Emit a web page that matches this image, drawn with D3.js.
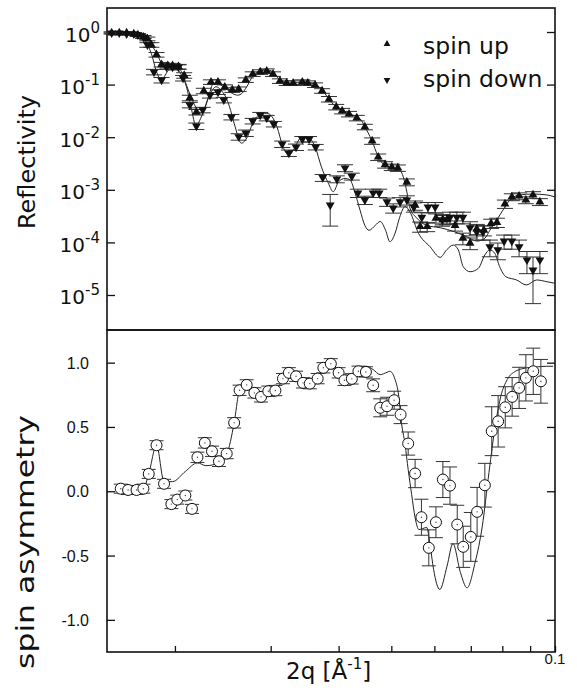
<!DOCTYPE html>
<html>
<head>
<meta charset="utf-8">
<script src="https://cdn.jsdelivr.net/npm/d3@7"></script>
<style>
  body { margin: 0; background: #fff; }
  text { font-family: "Liberation Sans", Arial, sans-serif; fill: #111; }
  .wide { font-family: "DejaVu Sans", sans-serif; }
</style>
</head>
<body>
<svg width="577" height="696"></svg>
<script>
// ---- reflectivity, spin up (q in 1/A, R, relative error) ----
const upQ = [0.0153,0.0158,0.0163,0.0168,0.0171,0.0175,0.0178,0.0181,0.0185,0.0189,0.0194,0.0198,0.0203,0.0208,0.0213,0.0219,0.0226,0.0233,0.0240,0.0247,
  0.0255,0.0262,0.0270,0.0278,0.0287,0.0295,0.0303,0.0312,0.0321,0.0330,0.0343,0.0351,0.0362,0.0373,0.0384,0.0396,0.0406,0.0418,0.0432,0.0447,
  0.0461,0.0473,0.0487,0.0501,0.0514,0.0534,0.0553,0.0565,0.0582,0.0604,0.0622,0.0633,0.0655,0.0677,0.0698,0.0718,0.0740,0.0763,0.0782,0.0809,
  0.0833,0.0859,0.0884,0.0911,0.0938];
const upR = [0.96,0.96,0.96,0.92,0.88,0.80,0.74,0.57,0.37,0.24,0.23,0.23,0.22,0.15,0.056,0.030,0.076,0.112,0.112,0.090,
  0.079,0.082,0.122,0.159,0.174,0.181,0.159,0.117,0.107,0.107,0.112,0.107,0.098,0.076,0.053,0.0375,0.0315,0.0276,0.0232,0.0157,
  0.0085,0.0042,0.0030,0.0027,0.0026,0.0014,0.00051,0.00020,0.00020,0.00029,0.00027,0.00027,0.00021,0.00012,0.000097,0.00018,0.00017,0.00023,0.00024,0.00054,
  0.00073,0.00076,0.00064,0.00080,0.00059];
const upErr = [0.04,0.04,0.04,0.04,0.05,0.06,0.08,0.1,0.1,0.1, 0.1,0.1,0.1,0.12,0.12,0.12,0.12,0.1,0.1,0.1,
  0.1,0.1,0.1,0.1,0.1,0.1,0.1,0.1,0.1,0.1, 0.1,0.1,0.1,0.1,0.12,0.12,0.12,0.12,0.12,0.12,
  0.14,0.14,0.14,0.14,0.14,0.15,0.2,0.22,0.2,0.2, 0.2,0.2,0.22,0.25,0.25,0.22,0.22,0.2,0.2,0.18,
  0.15,0.15,0.15,0.15,0.15];

// ---- reflectivity, spin down ----
const downQ = [0.0153,0.0158,0.0163,0.0168,0.0171,0.0175,0.0178,0.0183,0.0189,0.0193,0.0198,0.0203,0.0207,0.0213,0.0219,0.0225,0.0232,0.0240,0.0246,0.0254,
  0.0262,0.0270,0.0278,0.0287,0.0295,0.0304,0.0315,0.0324,0.0334,0.0343,0.0353,0.0363,0.0374,0.0386,0.0397,0.0411,0.0423,0.0434,0.0447,0.0463,
  0.0475,0.0491,0.0504,0.0519,0.0534,0.0550,0.0569,0.0584,0.0602,0.0620,0.0641,0.0660,0.0677,0.0698,0.0718,0.0737,0.0759,0.0785,0.0806,0.0833,
  0.0859,0.0888,0.0911,0.0938];
const downR = [0.96,0.96,0.92,0.92,0.88,0.80,0.57,0.174,0.122,0.216, 0.216,0.216,0.133,0.041,0.0163,0.033,0.063,0.072,0.051,0.0242,
  0.0102,0.012,0.0203,0.0264,0.0232,0.0178,0.0074,0.0050,0.0065,0.0092, 0.0092,0.0065,0.0017,0.00051,0.0016,0.0026,0.0018,0.00087,0.00064,0.00087,
  0.00087,0.00059,0.00045,0.00059,0.00064,0.00047,0.00030,0.00047,0.00047,0.00027, 0.00030,0.00030,0.00030,0.00019,0.000158,0.000158,0.000082,0.000072,0.000106,0.000106,
  0.000082,0.0000463,0.0000298,0.0000463];
const downErr = [0.04,0.04,0.04,0.04,0.05,0.06,0.1,0.12,0.12,0.1, 0.1,0.1,0.12,0.12,0.14,0.12,0.12,0.1,0.12,0.12,
  0.14,0.14,0.12,0.12,0.12,0.12,0.14,0.14,0.14,0.12, 0.12,0.12,0.15,0.6,0.15,0.15,0.15,0.18,0.18,0.18,
  0.18,0.18,0.2,0.2,0.2,0.2,0.22,0.22,0.22,0.25, 0.25,0.25,0.25,0.3,0.3,0.3,0.35,0.35,0.3,0.3,
  0.35,0.45,0.77,0.45];

// ---- fitted reflectivity curves ----
const upFitQ = [0.0150,0.0172,0.0178,0.0181,0.0185,0.0188,0.0191,0.0198,0.0203,0.0207,0.0210,0.0214,0.0220,0.0223,0.0227,0.0231,0.0235,0.0239,0.0243,0.0249,
  0.0255,0.0261,0.0266,0.0270,0.0279,0.0287,0.0295,0.0303,0.0312,0.0321,0.0330,0.0342,0.0351,0.0364,0.0373,0.0383,0.0394,0.0405,0.0418,0.0432,
  0.0440,0.0447,0.0460,0.0473,0.0490,0.0504,0.0518,0.0528,0.0534,0.0541,0.0557,0.0581,0.0615,0.0655,0.0689,0.0719,0.0743,0.0759,0.0782,0.0802,
  0.0826,0.0862,0.0911,0.0966,0.1000];
const upFitR = [1.0,0.96,0.81,0.57,0.40,0.28,0.22,0.22,0.21,0.15,0.098,0.059,0.033,0.029,0.036,0.063,0.103,0.107,0.098,0.082,
  0.068,0.063,0.069,0.085,0.152,0.181,0.190,0.174,0.122,0.11,0.106,0.113,0.11,0.098,0.079,0.055,0.039,0.033,0.0276,0.0245,
  0.0212,0.0159,0.0088,0.0043,0.00275,0.0026,0.0024,0.00153,0.00091,0.00045,0.00029,0.00021,0.00019,0.000158,0.000127,0.000106,0.00012,0.00017,0.00027,0.00041,
  0.00064,0.0008,0.00083,0.0008,0.00073];
const downFitQ = [0.0150,0.0172,0.0174,0.0177,0.0181,0.0185,0.0189,0.0192,0.0195,0.0202,0.0206,0.0210,0.0214,0.0219,0.0221,0.0225,0.0231,0.0238,0.0243,0.0248,
  0.0252,0.0257,0.0265,0.0272,0.0278,0.0284,0.0295,0.0302,0.0308,0.0316,0.0324,0.0332,0.0340,0.0350,0.0362,0.0372,0.0383,0.0391,0.0400,0.0411,
  0.0420,0.0429,0.0438,0.0447,0.0455,0.0467,0.0477,0.0488,0.0497,0.0508,0.0518,0.0530,0.0541,0.0561,0.0589,0.0615,0.0632,0.0650,0.0664,0.0678,
  0.0698,0.0723,0.0743,0.0759,0.0775,0.0791,0.0812,0.0850,0.0886,0.0925,0.0966,0.1000];
const downFitR = [1.0,0.96,0.88,0.645,0.39,0.176,0.122,0.152,0.190,0.190,0.146,0.091,0.038,0.0159,0.0187,0.0285,0.059,0.091,0.079,0.058,
  0.038,0.0184,0.0077,0.0103,0.0184,0.0253,0.0285,0.0242,0.0159,0.0066,0.0046,0.0062,0.0095,0.0100,0.0066,0.0027,0.00133,0.00092,0.00142,0.00165,
  0.00153,0.00086,0.00041,0.00021,0.00017,0.00021,0.00025,0.00017,0.000103,0.000149,0.0003,0.00048,0.00038,0.000149,0.000083,0.000052,0.000072,0.000089,0.000072,0.0000345,
  0.0000277,0.0000322,0.000058,0.000072,0.000062,0.0000345,0.0000223,0.0000193,0.0000155,0.0000193,0.0000179,0.0000167];

// ---- spin asymmetry ----
const asymQ = [0.0159,0.0164,0.0170,0.0175,0.0179,0.0185,0.0191,0.0197,0.0202,0.0209,0.0215,0.0220,0.0227,0.0234,0.0241,0.0249,0.0257,0.0263,0.0271,0.0280,
  0.0288,0.0297,0.0306,0.0316,0.0324,0.0334,0.0344,0.0354,0.0366,0.0375,0.0387,0.0400,0.0410,0.0423,0.0435,0.0449,0.0463,0.0477,0.0491,0.0506,
  0.0520,0.0537,0.0553,0.0568,0.0586,0.0604,0.0622,0.0641,0.0661,0.0678,0.0700,0.0719,0.0743,0.0765,0.0786,0.0810,0.0834,0.0859,0.0884,0.0912,
  0.0942];
const asymA = [0.02,0.01,0.01,0.02,0.135,0.358,0.058,-0.10,-0.065,-0.033, -0.137,0.264,0.376,0.311,0.233,0.293,0.532,0.785,0.827,0.765,
  0.734,0.778,0.783,0.876,0.921,0.894,0.843,0.837,0.876,0.96, 0.991,0.921,0.863,0.874,0.933,0.928,0.824,0.649,0.661,0.708,
  0.596,0.371,0.138,-0.202,-0.44,-0.241,0.091,0.044,-0.259,-0.432, -0.355,-0.16,0.047,0.467,0.544,0.653,0.734,0.804,0.882,0.933,
  0.855];
const asymErr = [0.035,0.035,0.035,0.035,0.035,0.035,0.035,0.035,0.035,0.035, 0.035,0.04,0.04,0.04,0.04,0.04,0.04,0.04,0.04,0.04,
  0.04,0.04,0.04,0.04,0.04,0.04,0.04,0.04,0.04,0.04, 0.04,0.04,0.04,0.04,0.04,0.04,0.05,0.07,0.07,0.07,
  0.07,0.09,0.11,0.14,0.14,0.12,0.14,0.145,0.15,0.16, 0.19,0.19,0.17,0.19,0.2,0.16,0.15,0.16,0.18,0.18,
  0.17];
const asymFitQ = [0.0159,0.0164,0.0170,0.0175,0.0179,0.0185,0.0191,0.0198,0.0209,0.0220,0.0228,0.0241,0.0249,0.0257,0.0263,0.0271,0.0280,0.0288,0.0297,0.0306,
  0.0316,0.0324,0.0334,0.0344,0.0354,0.0366,0.0375,0.0387,0.0400,0.0411,0.0423,0.0435,0.0450,0.0463,0.0477,0.0491,0.0497,0.0508,0.0516,0.0521,
  0.0530,0.0537,0.0545,0.0553,0.0562,0.0581,0.0589,0.0598,0.0614,0.0633,0.0649,0.0670,0.0689,0.0713,0.0735,0.0756,0.0778,0.0795,0.0817,0.0846,
  0.0888,0.0926,0.0966,0.0992];
const asymFitA = [0.02,0.01,0.01,0.02,0.135,0.358,0.075,0.075,0.154,0.221,0.199,0.221,0.285,0.532,0.785,0.827,0.765,0.734,0.778,0.783,
  0.869,0.907,0.892,0.845,0.845,0.884,0.96,0.991,0.939,0.884,0.884,0.933,0.972,0.946,0.907,0.925,0.933,0.869,0.739,0.558,
  0.363,0.169,-0.026,-0.205,-0.298,-0.282,-0.414,-0.608,-0.764,-0.583,-0.407,-0.632,-0.751,-0.554,-0.272,0.145,0.534,0.739,0.869,0.933,
  0.96,0.967,0.972,0.972];

// ---- axes ----
const qTicks = [0.02,0.03,0.04,0.05,0.06,0.07,0.08,0.09,0.1];
const reflTicks = [1,0.1,0.01,0.001,0.0001,0.00001];
const asymTicks = [1.0,0.5,0.0,-0.5,-1.0];

const svg = d3.select('svg');
const pLeft = 107, pRight = 555, pTop = 8, pMid = 330, pBottom = 652;

const x = d3.scaleLog().domain([0.015, 0.1]).range([pLeft, pRight]);
const yR = d3.scaleLog().domain([2.16e-6, 2.86]).range([pMid, pTop]);
const yA = d3.scaleLinear().domain([-1.25, 1.254]).range([pBottom, pMid]);

const g = svg.append('g');

// tick marks, pointing inward on all y sides
function yTicks(scale, vals) {
  g.append('g').attr('transform', `translate(${pLeft},0)`)
    .call(d3.axisLeft(scale).tickValues(vals).tickSize(-8).tickFormat(''))
    .call(a => a.select('.domain').remove());
  g.append('g').attr('transform', `translate(${pRight},0)`)
    .call(d3.axisRight(scale).tickValues(vals).tickSize(-8).tickFormat(''))
    .call(a => a.select('.domain').remove());
}
yTicks(yR, reflTicks);
yTicks(yA, asymTicks);
g.append('g').attr('transform', `translate(0,${pBottom})`)
  .call(d3.axisBottom(x).tickValues(qTicks).tickSize(-6).tickFormat(''))
  .call(a => a.select('.domain').remove());
g.selectAll('.tick line').attr('stroke', '#111').attr('stroke-width', 1.3);

// frames
[[pTop, pMid], [pMid, pBottom]].forEach(([t, b]) => {
  g.append('rect').attr('x', pLeft).attr('y', t).attr('width', pRight - pLeft).attr('height', b - t)
    .attr('fill', 'none').attr('stroke', '#111').attr('stroke-width', 1.6);
});

// tick labels
reflTicks.forEach(v => {
  const t = g.append('text').attr('class', 'wide').attr('x', 100).attr('y', yR(v) + 9.5)
    .attr('text-anchor', 'end').attr('font-size', 20);
  t.append('tspan').text('10');
  t.append('tspan').attr('dy', -9).attr('font-size', 15).text(String(Math.round(Math.log10(v))));
});
asymTicks.forEach(v => {
  g.append('text').attr('x', 89).attr('y', yA(v) + 6).attr('text-anchor', 'end')
    .attr('font-size', 16).text(v.toFixed(1));
});
g.append('text').attr('x', x(0.1)).attr('y', 664).attr('text-anchor', 'middle')
  .attr('font-size', 15).text('0.1');

// axis titles
g.append('text').attr('class', 'wide').attr('transform', 'translate(35,162) rotate(-90)').attr('text-anchor', 'middle')
  .attr('font-size', 23).attr('textLength', 134).attr('lengthAdjust', 'spacingAndGlyphs').text('Reflectivity');
g.append('text').attr('class', 'wide').attr('transform', 'translate(34,542) rotate(-90)').attr('text-anchor', 'middle')
  .attr('font-size', 24).attr('textLength', 254).attr('lengthAdjust', 'spacingAndGlyphs').text('spin asymmetry');
const xt = g.append('text').attr('class', 'wide').attr('x', 286).attr('y', 679).attr('font-size', 23);
xt.append('tspan').text('2q [Å');
xt.append('tspan').attr('dy', -10).attr('font-size', 15).text('-1');
xt.append('tspan').attr('dy', 10).text(']');

// fitted curves
const lineR = d3.line().x(d => x(d[0])).y(d => yR(d[1])).curve(d3.curveMonotoneX);
const lineA = d3.line().x(d => x(d[0])).y(d => yA(d[1])).curve(d3.curveMonotoneX);
g.append('path').attr('d', lineR(d3.zip(upFitQ, upFitR))).attr('fill', 'none').attr('stroke', '#222').attr('stroke-width', 1);
g.append('path').attr('d', lineR(d3.zip(downFitQ, downFitR))).attr('fill', 'none').attr('stroke', '#222').attr('stroke-width', 1);
g.append('path').attr('d', lineA(d3.zip(asymFitQ, asymFitA))).attr('fill', 'none').attr('stroke', '#222').attr('stroke-width', 1);

// error bars
function errorBars(pts, cap) {
  const eg = g.append('g').attr('stroke', '#333').attr('stroke-width', 1);
  pts.forEach(p => {
    eg.append('line').attr('x1', p.x).attr('x2', p.x).attr('y1', p.y0).attr('y2', p.y1);
    [p.y0, p.y1].forEach(yy => eg.append('line').attr('x1', p.x - cap).attr('x2', p.x + cap).attr('y1', yy).attr('y2', yy));
  });
}
const upPts = upQ.map((q, i) => ({ x: x(q), y: yR(upR[i]), y0: yR(upR[i] * (1 - upErr[i])), y1: yR(upR[i] * (1 + upErr[i])) }));
const downPts = downQ.map((q, i) => ({ x: x(q), y: yR(downR[i]), y0: yR(downR[i] * (1 - downErr[i])), y1: yR(downR[i] * (1 + downErr[i])) }));
const asymPts = asymQ.map((q, i) => ({ x: x(q), y: yA(asymA[i]), y0: yA(asymA[i] - asymErr[i]), y1: yA(asymA[i] + asymErr[i]) }));
errorBars(upPts, 8);
errorBars(downPts, 8);
errorBars(asymPts, 7);

// markers
const tri = d3.symbol(d3.symbolTriangle, 34)();
g.append('g').selectAll('path').data(upPts).enter().append('path')
  .attr('d', tri).attr('transform', d => `translate(${d.x},${d.y})`).attr('fill', '#111');
g.append('g').selectAll('path').data(downPts).enter().append('path')
  .attr('d', tri).attr('transform', d => `translate(${d.x},${d.y}) rotate(180)`).attr('fill', '#111');
const cg = g.append('g');
cg.selectAll('circle').data(asymPts).enter().append('circle')
  .attr('cx', d => d.x).attr('cy', d => d.y).attr('r', 5.5)
  .attr('fill', '#fff').attr('stroke', '#111').attr('stroke-width', 1);
cg.selectAll('.dot').data(asymPts).enter().append('circle')
  .attr('cx', d => d.x).attr('cy', d => d.y).attr('r', 0.7).attr('fill', '#444');

// legend
const smallTri = d3.symbol(d3.symbolTriangle, 20)();
g.append('path').attr('d', smallTri).attr('transform', 'translate(387,44)').attr('fill', '#111');
g.append('path').attr('d', smallTri).attr('transform', 'translate(387,80) rotate(180)').attr('fill', '#111');
g.append('text').attr('class', 'wide').attr('x', 423).attr('y', 54).attr('font-size', 23.5).text('spin up');
g.append('text').attr('class', 'wide').attr('x', 423).attr('y', 87).attr('font-size', 23.5).text('spin down');
</script>
</body>
</html>
